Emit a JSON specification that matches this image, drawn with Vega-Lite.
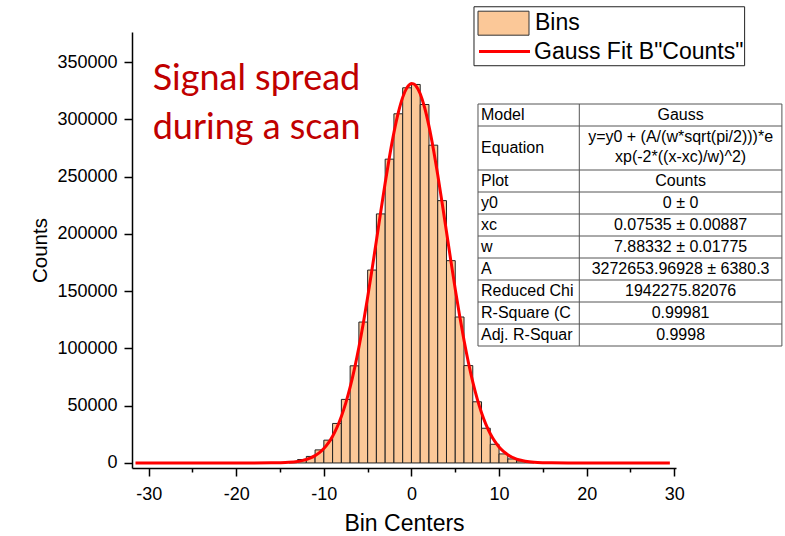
{
  "$schema": "https://vega.github.io/schema/vega-lite/v6.json",
  "width": 544,
  "height": 436,
  "autosize": {"type": "none"},
  "padding": {"left": 132, "top": 32, "right": 109, "bottom": 68},
  "background": "white",
  "config": {"view": {"stroke": null}, "font": "Liberation Sans"},
  "datasets": {
    "bins": [
      {"bin_start": -14, "bin_end": -13, "count": 1200},
      {"bin_start": -13, "bin_end": -12, "count": 3000},
      {"bin_start": -12, "bin_end": -11, "count": 5700},
      {"bin_start": -11, "bin_end": -10, "count": 11400},
      {"bin_start": -10, "bin_end": -9, "count": 19900},
      {"bin_start": -9, "bin_end": -8, "count": 34500},
      {"bin_start": -8, "bin_end": -7, "count": 55500},
      {"bin_start": -7, "bin_end": -6, "count": 84800},
      {"bin_start": -6, "bin_end": -5, "count": 123000},
      {"bin_start": -5, "bin_end": -4, "count": 168400},
      {"bin_start": -4, "bin_end": -3, "count": 217400},
      {"bin_start": -3, "bin_end": -2, "count": 265200},
      {"bin_start": -2, "bin_end": -1, "count": 304800},
      {"bin_start": -1, "bin_end": 0, "count": 327500},
      {"bin_start": 0, "bin_end": 1, "count": 330400},
      {"bin_start": 1, "bin_end": 2, "count": 312900},
      {"bin_start": 2, "bin_end": 3, "count": 277400},
      {"bin_start": 3, "bin_end": 4, "count": 229000},
      {"bin_start": 4, "bin_end": 5, "count": 176600},
      {"bin_start": 5, "bin_end": 6, "count": 127400},
      {"bin_start": 6, "bin_end": 7, "count": 85000},
      {"bin_start": 7, "bin_end": 8, "count": 53400},
      {"bin_start": 8, "bin_end": 9, "count": 30300},
      {"bin_start": 9, "bin_end": 10, "count": 16300},
      {"bin_start": 10, "bin_end": 11, "count": 7900},
      {"bin_start": 11, "bin_end": 12, "count": 3500},
      {"bin_start": 12, "bin_end": 13, "count": 1750},
      {"bin_start": 13, "bin_end": 14, "count": 600}
    ],
    "fit": [
      {"x": -31.5, "y": 0}, {"x": -24, "y": 0}, {"x": -20, "y": 1}, {"x": -18, "y": 9},
      {"x": -16, "y": 81}, {"x": -15, "y": 221}, {"x": -14, "y": 563}, {"x": -13, "y": 1350},
      {"x": -12.5, "y": 2041}, {"x": -12, "y": 3034}, {"x": -11.5, "y": 4439}, {"x": -11, "y": 6393},
      {"x": -10.5, "y": 9057}, {"x": -10, "y": 12627}, {"x": -9.5, "y": 17326}, {"x": -9, "y": 23382},
      {"x": -8.5, "y": 31063}, {"x": -8, "y": 40610}, {"x": -7.5, "y": 52245}, {"x": -7, "y": 66137},
      {"x": -6.5, "y": 82384}, {"x": -6, "y": 100976}, {"x": -5.5, "y": 121804}, {"x": -5, "y": 144576},
      {"x": -4.5, "y": 168871}, {"x": -4, "y": 194092}, {"x": -3.5, "y": 219521}, {"x": -3, "y": 244324},
      {"x": -2.5, "y": 267565}, {"x": -2, "y": 288360}, {"x": -1.5, "y": 305802}, {"x": -1, "y": 319131},
      {"x": -0.5, "y": 327720}, {"x": -0.25, "y": 330104}, {"x": 0, "y": 331170}, {"x": 0.25, "y": 330906},
      {"x": 0.5, "y": 329313}, {"x": 1, "y": 322241}, {"x": 1.5, "y": 310287}, {"x": 2, "y": 294008},
      {"x": 2.5, "y": 274133}, {"x": 3, "y": 251527}, {"x": 3.5, "y": 227098}, {"x": 4, "y": 201773},
      {"x": 4.5, "y": 176409}, {"x": 5, "y": 151764}, {"x": 5.5, "y": 128477}, {"x": 6, "y": 107031},
      {"x": 6.5, "y": 87743}, {"x": 7, "y": 70781}, {"x": 7.5, "y": 56184}, {"x": 8, "y": 43881},
      {"x": 8.5, "y": 33739}, {"x": 9, "y": 25522}, {"x": 9.5, "y": 18996}, {"x": 10, "y": 13918},
      {"x": 10.5, "y": 10030}, {"x": 11, "y": 7115}, {"x": 11.5, "y": 4965}, {"x": 12, "y": 3412},
      {"x": 12.5, "y": 2304}, {"x": 13, "y": 1532}, {"x": 14, "y": 646}, {"x": 15, "y": 255},
      {"x": 16, "y": 95}, {"x": 18, "y": 11}, {"x": 20, "y": 1}, {"x": 24, "y": 0}, {"x": 29.5, "y": 0}
    ],
    "table": [
      {"name": "Model", "value": "Gauss", "i": 0, "n": 1},
      {"name": "Equation", "value": "y=y0 + (A/(w*sqrt(pi/2)))*e\nxp(-2*((x-xc)/w)^2)", "i": 1, "n": 2},
      {"name": "Plot", "value": "Counts", "i": 3, "n": 1},
      {"name": "y0", "value": "0 ± 0", "i": 4, "n": 1},
      {"name": "xc", "value": "0.07535 ± 0.00887", "i": 5, "n": 1},
      {"name": "w", "value": "7.88332 ± 0.01775", "i": 6, "n": 1},
      {"name": "A", "value": "3272653.96928 ± 6380.3", "i": 7, "n": 1},
      {"name": "Reduced Chi", "value": "1942275.82076", "i": 8, "n": 1},
      {"name": "R-Square (C", "value": "0.99981", "i": 9, "n": 1},
      {"name": "Adj. R-Squar", "value": "0.9998", "i": 10, "n": 1}
    ]
  },
  "layer": [
    {
      "layer": [
        {
          "data": {"name": "bins"},
          "mark": {"type": "bar", "stroke": "#222222", "strokeWidth": 1},
          "encoding": {
            "x": {
              "field": "bin_start", "type": "quantitative",
              "scale": {"domain": [-31.9, 30.2], "nice": false, "zero": false},
              "axis": {
                "title": "Bin Centers",
                "values": [-30, -25, -20, -15, -10, -5, 0, 5, 10, 15, 20, 25, 30],
                "labelExpr": "datum.value % 10 === 0 ? '' + datum.value : ''",
                "labelFont": "Liberation Sans", "labelFontSize": 18, "labelColor": "black",
                "labelPadding": 9, "labelFlush": false, "labelOverlap": false,
                "tickColor": "black", "tickWidth": 1.5,
                "tickSize": {"condition": {"test": "datum.value % 10 !== 0", "value": 4}, "value": 8},
                "domainColor": "black", "domainWidth": 1.5, "grid": false,
                "titleFont": "Liberation Sans", "titleFontSize": 23, "titleFontWeight": "normal",
                "titleColor": "black", "titlePadding": 9
              }
            },
            "x2": {"field": "bin_end"},
            "y": {
              "field": "count", "type": "quantitative",
              "scale": {"domain": [-4400, 376200], "nice": false, "zero": false},
              "axis": {
                "title": "Counts",
                "values": [0, 25000, 50000, 75000, 100000, 125000, 150000, 175000, 200000, 225000, 250000, 275000, 300000, 325000, 350000, 375000],
                "labelExpr": "datum.value % 50000 === 0 ? '' + datum.value : ''",
                "labelFont": "Liberation Sans", "labelFontSize": 18, "labelColor": "black",
                "labelPadding": 7, "labelOverlap": false, "labelFlush": false,
                "tickColor": "black", "tickWidth": 1.5,
                "tickSize": {"condition": {"test": "datum.value % 50000 !== 0", "value": 4}, "value": 8},
                "domainColor": "black", "domainWidth": 1.5, "grid": false,
                "titleFont": "Liberation Sans", "titleFontSize": 20.5, "titleFontWeight": "normal",
                "titleColor": "black", "titlePadding": 6
              }
            },
            "y2": {"datum": 0},
            "fill": {
              "datum": "Bins",
              "scale": {"domain": ["Bins"], "range": ["#FBC898"]},
              "legend": {
                "orient": "none", "legendX": 342, "legendY": -25.3, "title": null,
                "labelFont": "Liberation Sans", "labelFontSize": 23, "labelColor": "black", "labelLimit": 400,
                "symbolType": "M-2.125,-1H2.125V1H-2.125Z", "symbolSize": 576, "symbolOffset": 13,
                "symbolStrokeColor": "#333333", "symbolStrokeWidth": 1, "symbolOpacity": 1,
                "labelOffset": 19, "padding": 4
              }
            }
          }
        },
        {
          "data": {"name": "fit"},
          "mark": {"type": "line", "strokeWidth": 3, "interpolate": "monotone"},
          "encoding": {
            "x": {"field": "x", "type": "quantitative"},
            "y": {"field": "y", "type": "quantitative"},
            "stroke": {
              "datum": "Gauss Fit B\"Counts\"",
              "scale": {"domain": ["Gauss Fit B\"Counts\""], "range": ["#FF0000"]},
              "legend": {
                "orient": "none", "legendX": 342, "legendY": 2, "title": null,
                "labelFont": "Liberation Sans", "labelFontSize": 23, "labelColor": "black", "labelLimit": 400,
                "symbolType": "M-2.125,0H2.125", "symbolSize": 576, "symbolOffset": 13,
                "symbolStrokeWidth": 3, "symbolOpacity": 1,
                "labelOffset": 16, "padding": 4
              }
            }
          }
        },
        {
          "data": {"values": [{}]},
          "mark": {"type": "text", "text": ["Signal spread", "during a scan"], "font": "Lato", "fontSize": 36, "color": "#C00000", "align": "left", "baseline": "alphabetic", "lineHeight": 49},
          "encoding": {
            "x": {"datum": -29.54, "type": "quantitative"},
            "y": {"datum": 325200, "type": "quantitative"}
          }
        }
      ]
    },
    {
      "layer": [
        {
          "data": {"values": [{}]},
          "mark": {"type": "rect", "fill": "white", "stroke": "#222222", "strokeWidth": 1},
          "encoding": {
            "x": {"datum": -0.0395, "type": "quantitative", "scale": {"domain": [-3.4156, 1.9546], "nice": false, "zero": false}, "axis": null},
            "x2": {"datum": 2.632},
            "y": {"datum": -4.42, "type": "quantitative", "scale": {"domain": [-3.2727, 16.545], "nice": false, "zero": false, "reverse": true}, "axis": null},
            "y2": {"datum": -1.74}
          }
        },
        {
          "data": {"values": [{}]},
          "mark": {"type": "rect", "fill": "white", "stroke": "#555555", "strokeWidth": 1},
          "encoding": {
            "x": {"datum": 0, "type": "quantitative", "axis": null},
            "x2": {"datum": 3},
            "y": {"datum": 0, "type": "quantitative", "axis": null},
            "y2": {"datum": 11}
          }
        },
        {
          "data": {"name": "table"},
          "transform": [{"filter": "datum.i > 0"}],
          "mark": {"type": "rule", "color": "#555555", "strokeWidth": 1},
          "encoding": {
            "x": {"datum": 0, "type": "quantitative", "axis": null},
            "x2": {"datum": 3},
            "y": {"field": "i", "type": "quantitative", "axis": null}
          }
        },
        {
          "data": {"values": [{}]},
          "mark": {"type": "rule", "color": "#555555", "strokeWidth": 1},
          "encoding": {
            "x": {"datum": 1, "type": "quantitative", "axis": null},
            "y": {"datum": 0, "type": "quantitative", "axis": null},
            "y2": {"datum": 11}
          }
        },
        {
          "data": {"name": "table"},
          "transform": [{"filter": "datum.n === 1"}],
          "mark": {"type": "text", "align": "left", "baseline": "middle", "dx": 3, "dy": 11, "font": "Liberation Sans", "fontSize": 16, "color": "black"},
          "encoding": {
            "x": {"datum": 0, "type": "quantitative", "axis": null},
            "y": {"field": "i", "type": "quantitative", "axis": null},
            "text": {"field": "name"}
          }
        },
        {
          "data": {"name": "table"},
          "transform": [{"filter": "datum.n === 2"}],
          "mark": {"type": "text", "align": "left", "baseline": "middle", "dx": 3, "dy": 22, "font": "Liberation Sans", "fontSize": 16, "color": "black"},
          "encoding": {
            "x": {"datum": 0, "type": "quantitative", "axis": null},
            "y": {"field": "i", "type": "quantitative", "axis": null},
            "text": {"field": "name"}
          }
        },
        {
          "data": {"name": "table"},
          "transform": [{"filter": "datum.n === 1"}],
          "mark": {"type": "text", "align": "center", "baseline": "middle", "dy": 11, "font": "Liberation Sans", "fontSize": 16, "color": "black"},
          "encoding": {
            "x": {"datum": 2, "type": "quantitative", "axis": null},
            "y": {"field": "i", "type": "quantitative", "axis": null},
            "text": {"field": "value"}
          }
        },
        {
          "data": {"name": "table"},
          "transform": [{"filter": "datum.n === 2"}],
          "mark": {"type": "text", "align": "center", "baseline": "middle", "dy": 11, "lineBreak": "\n", "lineHeight": 20, "font": "Liberation Sans", "fontSize": 16, "color": "black"},
          "encoding": {
            "x": {"datum": 2, "type": "quantitative", "axis": null},
            "y": {"field": "i", "type": "quantitative", "axis": null},
            "text": {"field": "value"}
          }
        }
      ]
    }
  ],
  "resolve": {"scale": {"x": "independent", "y": "independent", "fill": "independent", "stroke": "independent"}}
}
